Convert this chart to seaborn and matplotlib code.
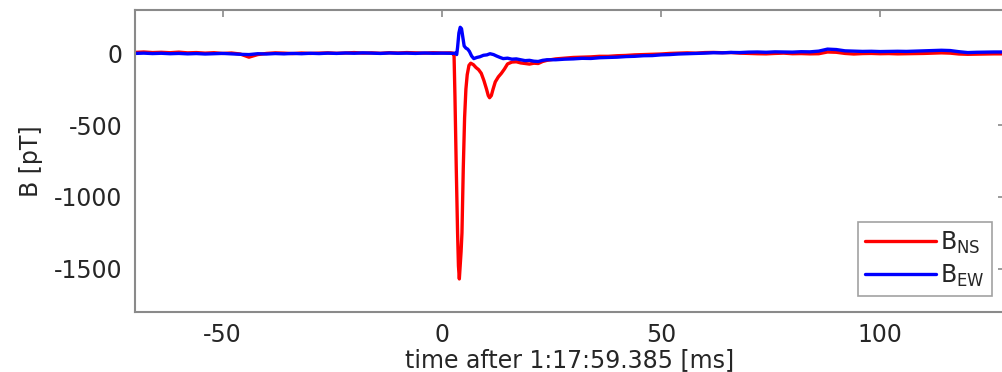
import numpy as np
import pandas as pd
import matplotlib
matplotlib.use("Agg")
import matplotlib.pyplot as plt
import seaborn as sns

# ---- magnetic field components around the discharge (pT) ----
# quiet interval before the event, 2 ms sampling
t_pre = np.arange(-70, 3, 2)
ns_pre = [5, 8, 4, 6, 3, 7, 2, 4, 0, 3, -2, 1, -6, -28, -10, -2, 2, 0, -3,
          1, -2, 0, 2, -1, 1, 4, 0, 2, -1, 3, 1, 4, 2, 0, 3, 1, 2]
ew_pre = [-2, 0, -3, -1, -4, -2, -5, -3, -6, -4, -2, -5, -8, -10, -4, -6, -3,
          -5, -2, -4, -1, -3, 0, -2, 1, -1, 2, 0, -2, 1, -1, 0, -2, 1, -1, 0, -1]

# the pulse itself, irregular sampling
t_ns_evt = [2.5, 2.8, 3.0, 3.3, 3.6, 3.8, 4.0, 4.2, 4.4, 4.6, 4.9, 5.2, 5.5,
            5.8, 6.2, 6.6, 7.2, 7.8, 8.4, 9.0, 9.6, 10.2, 10.6, 10.9, 11.3,
            11.7, 12.2, 12.9, 13.6, 14.3, 15.0, 16, 17, 18, 19, 20, 21, 22,
            23, 24]
ns_evt = [0, -20, -300, -800, -1250, -1480, -1570, -1480, -1380, -1250, -800,
          -450, -250, -150, -85, -70, -80, -100, -115, -140, -190, -250, -295,
          -310, -295, -250, -200, -165, -140, -110, -75, -62, -60, -68, -72,
          -76, -70, -72, -58, -50]

t_ew_evt = [2.5, 3.0, 3.4, 3.6, 3.9, 4.2, 4.5, 4.8, 5.1, 5.5, 5.9, 6.3, 6.8,
            7.3, 8.0, 8.7, 9.5, 10.3, 11.0, 11.8, 12.5, 13.3, 14.0, 15, 16,
            17, 18, 19, 20, 21, 22, 23, 24]
ew_evt = [-2, 0, -10, 40, 140, 180, 170, 110, 50, 35, 28, 12, -20, -38, -30,
          -25, -15, -12, -4, -10, -20, -30, -38, -35, -42, -40, -46, -52, -50,
          -56, -58, -50, -46]

# slow recovery after the pulse, 2 ms sampling
t_post = np.arange(26, 129, 2)
ns_post = [-40, -35, -30, -28, -26, -22, -22, -18, -16, -12, -10, -8, -6, -2,
           0, 2, 0, 4, 5, 3, 4, 0, -2, -4, -5, -2, 0, -4, -3, -5, -4, 8, 6,
           -2, -6, -3, -2, -4, -3, -5, -4, -3, -2, 0, 2, 0, -6, -8, -7, -6,
           -5, -5]
ew_post = [-46, -42, -40, -36, -37, -32, -30, -28, -24, -22, -18, -17, -12,
           -10, -6, -4, -2, 0, 3, 2, 5, 4, 7, 8, 6, 9, 8, 7, 10, 9, 14, 28,
           25, 16, 14, 12, 13, 11, 12, 13, 12, 14, 16, 18, 20, 18, 10, 4, 6,
           7, 8, 8]

label_ns = r"B$_\mathregular{NS}$"
label_ew = r"B$_\mathregular{EW}$"

df = pd.concat([
    pd.DataFrame({"t": np.concatenate([t_pre, t_ns_evt, t_post]),
                  "B": np.concatenate([ns_pre, ns_evt, ns_post]),
                  "comp": label_ns}),
    pd.DataFrame({"t": np.concatenate([t_pre, t_ew_evt, t_post]),
                  "B": np.concatenate([ew_pre, ew_evt, ew_post]),
                  "comp": label_ew}),
], ignore_index=True)

sns.set_style("white")
plt.rcParams["font.family"] = ["DejaVu Sans"]
plt.rcParams["axes.unicode_minus"] = False

text_color = "#262626"
frame_color = "#8a8a8a"
fs = 17

fig = plt.figure(figsize=(10.03, 3.72), dpi=100)
ax = fig.add_axes([135 / 1003, 60 / 372, 870 / 1003, 302 / 372])

sns.lineplot(data=df, x="t", y="B", hue="comp", sort=False, estimator=None,
             palette={label_ns: "#ff0000", label_ew: "#0000ff"},
             linewidth=2.4, legend=False, ax=ax)

ax.set_xlim(-70, 128.5)
ax.set_ylim(-1800, 300)
ax.set_xticks([-50, 0, 50, 100])
ax.set_yticks([-1500, -1000, -500, 0])

ax.set_xlabel("time after 1:17:59.385 [ms]", fontsize=fs, color=text_color,
              labelpad=1)
ax.set_ylabel("B [pT]", fontsize=fs, color=text_color, labelpad=8)

ax.tick_params(direction="in", length=5, width=1.2, colors=frame_color,
               labelcolor=text_color, labelsize=fs, top=True, right=True)
ax.tick_params(axis="x", pad=8)
ax.tick_params(axis="y", pad=9)
for side in ax.spines.values():
    side.set_visible(True)
    side.set_color(frame_color)
    side.set_linewidth(1.5)

lines = ax.get_lines()
leg = ax.legend(lines[:2], [label_ns, label_ew], loc="lower right",
                bbox_to_anchor=(857 / 870, 16 / 302), fontsize=fs,
                frameon=True, fancybox=False, handlelength=3.0,
                handletextpad=0.2, borderpad=0.3, labelspacing=0.3,
                borderaxespad=0)
leg.get_frame().set_edgecolor(frame_color)
leg.get_frame().set_linewidth(1.2)
for txt in leg.get_texts():
    txt.set_color(text_color)

fig.savefig("out.png", dpi=100)
